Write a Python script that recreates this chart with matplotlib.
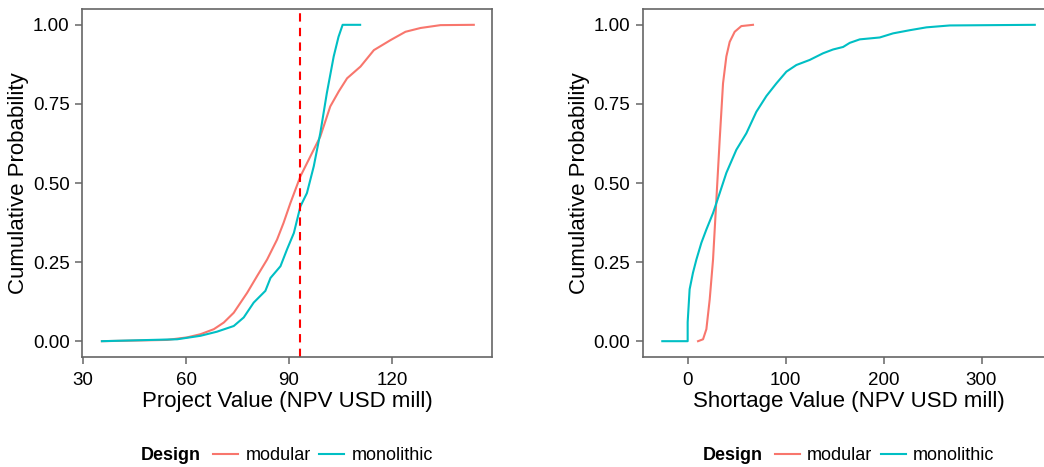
import matplotlib
matplotlib.use("Agg")
import matplotlib.pyplot as plt
from matplotlib.lines import Line2D

plt.rcParams['font.family'] = ['Liberation Sans', 'DejaVu Sans']

# ECDF points (value, cumulative prob)
proj_mod_x = [35.5, 54.5, 60.3, 64.2, 68.1, 71.0, 73.9, 77.8, 80.7, 83.6, 86.5, 88.4,
              90.4, 93.3, 96.2, 99.1, 102.0, 104.5, 106.9, 110.8, 114.7, 119.6, 123.9,
              128.3, 134.1, 143.8]
proj_mod_y = [0.0, 0.004, 0.012, 0.022, 0.038, 0.059, 0.09, 0.153, 0.206, 0.258, 0.321,
              0.374, 0.437, 0.521, 0.584, 0.647, 0.742, 0.79, 0.831, 0.868, 0.92, 0.952,
              0.978, 0.99, 0.999, 1.0]
proj_mono_x = [35.5, 57.4, 64.2, 69.0, 73.9, 76.8, 79.7, 83.1, 84.6, 87.5, 89.4, 91.4,
               93.3, 95.2, 97.2, 99.1, 101.0, 103.0, 104.4, 105.6, 110.7]
proj_mono_y = [0.0, 0.006, 0.017, 0.03, 0.048, 0.075, 0.122, 0.159, 0.2, 0.237, 0.29,
               0.342, 0.426, 0.468, 0.553, 0.658, 0.784, 0.9, 0.962, 1.0, 1.0]
proj_cut = 93.2

short_mod_x = [10.6, 15.7, 19.1, 22.5, 25.9, 29.3, 32.7, 36.1, 39.5, 42.9, 48.0, 54.8, 66.7]
short_mod_y = [0.0, 0.006, 0.038, 0.132, 0.258, 0.447, 0.637, 0.815, 0.9, 0.946, 0.978,
               0.996, 1.0]
short_mono_x = [-25.9, 0.0, 0.0, 2.0, 5.4, 8.9, 14.0, 19.1, 25.9, 32.7, 39.5, 49.7, 59.9,
                70.1, 80.4, 90.6, 100.8, 111.0, 124.6, 138.2, 148.4, 158.7, 165.5, 175.7,
                196.1, 209.7, 226.8, 243.8, 267.6, 354.4]
short_mono_y = [0.0, 0.0, 0.06, 0.164, 0.216, 0.258, 0.311, 0.353, 0.405, 0.468, 0.532,
                0.605, 0.657, 0.725, 0.775, 0.815, 0.852, 0.873, 0.889, 0.91, 0.922, 0.93,
                0.943, 0.954, 0.96, 0.973, 0.983, 0.992, 0.998, 1.0]

designs = ["modular", "monolithic"]
colors = {"modular": "#F8766D", "monolithic": "#00BFC4"}

W, H = 1044, 467
fig = plt.figure(figsize=(W / 100, H / 100), dpi=100)


def px_axes(x0, x1, y0, y1):
    return fig.add_axes([x0 / W, 1 - y1 / H, (x1 - x0) / W, (y1 - y0) / H])


def style(ax, xlabel):
    for s in ax.spines.values():
        s.set_color("#666666")
        s.set_linewidth(1.2)
    ax.tick_params(colors="#666666", labelcolor="black", labelsize=13.5,
                   length=5, width=1.1, pad=4)
    ax.tick_params(axis="x", pad=6)
    ax.set_ylim(-0.05, 1.05)
    ax.set_yticks([0, 0.25, 0.5, 0.75, 1.0])
    ax.set_yticklabels(["0.00", "0.25", "0.50", "0.75", "1.00"])
    ax.set_xlabel(xlabel, fontsize=16, labelpad=1)
    ax.set_ylabel("Cumulative Probability", fontsize=16, labelpad=3)


ax1 = px_axes(82, 492, 9, 357)
ax1.plot(proj_mod_x, proj_mod_y, color=colors["modular"], lw=1.5)
ax1.plot(proj_mono_x, proj_mono_y, color=colors["monolithic"], lw=1.5)
ax1.axvline(proj_cut, color="#FF0000", ls=(0, (4, 3)), lw=1.5)
ax1.set_xlim(29.7, 149.1)
ax1.set_xticks([30, 60, 90, 120])
style(ax1, "Project Value (NPV USD mill)")

ax2 = px_axes(643, 1054, 9, 357)
ax2.plot(short_mod_x, short_mod_y, color=colors["modular"], lw=1.5)
ax2.plot(short_mono_x, short_mono_y, color=colors["monolithic"], lw=1.5)
ax2.set_xlim(-45.6, 374)
ax2.set_xticks([0, 100, 200, 300])
style(ax2, "Shortage Value (NPV USD mill)")

# bottom legends
handles = [Line2D([], [], color=colors[d], lw=1.5) for d in designs]
for cx in [0.5 * (82 + 492), 0.5 * (643 + 1054)]:
    fig.text((cx - 116) / W, 1 - 456 / H, "Design", fontsize=13, fontweight="bold",
             ha="center", va="center")
    fig.legend(handles, designs, loc="center", bbox_to_anchor=((cx + 36) / W, 1 - 456 / H),
               ncol=2, frameon=False, fontsize=13, handlelength=1.4, handletextpad=0.4,
               columnspacing=0.45, borderpad=0, borderaxespad=0)

fig.savefig("out.png", dpi=100)
